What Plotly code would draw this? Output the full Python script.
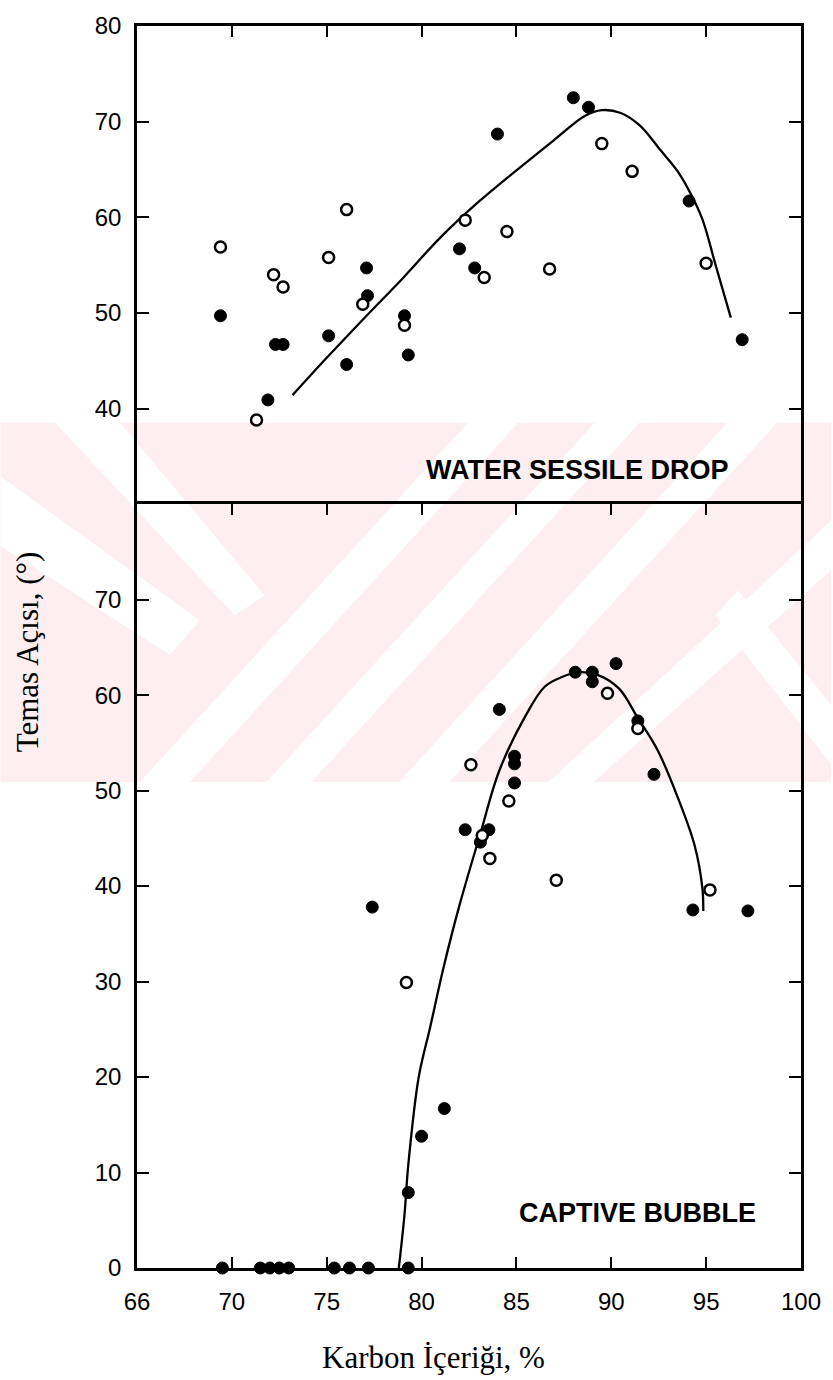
import plotly.graph_objects as go

# ---------------- data ----------------
# Top panel: WATER SESSILE DROP
ws_filled_x = [69.4, 72.3, 72.7, 71.9, 75.1, 76.05, 77.1, 77.15, 79.1, 79.3, 82.0, 82.8, 84.0, 88.0, 88.8, 94.1, 96.9]
ws_filled_y = [49.7, 46.7, 46.7, 40.9, 47.6, 44.6, 54.7, 51.8, 49.7, 45.6, 56.7, 54.7, 68.7, 72.5, 71.5, 61.7, 47.2]
ws_open_x = [69.4, 72.2, 72.7, 76.05, 75.1, 76.9, 79.1, 71.3, 82.3, 89.5, 91.1, 84.5, 83.3, 86.75, 95.0]
ws_open_y = [56.9, 54.0, 52.7, 60.8, 55.8, 50.9, 48.7, 38.8, 59.7, 67.7, 64.8, 58.5, 53.7, 54.6, 55.2]
ws_curve_x = [73.2, 75.0, 77.0, 79.0, 81.0, 83.0, 85.0, 87.0, 88.6, 89.5, 90.5, 91.5, 92.6, 93.5, 94.2, 94.8, 95.5, 96.3]
ws_curve_y = [41.4, 45.3, 49.5, 53.6, 57.9, 61.6, 64.9, 68.1, 70.6, 71.2, 70.9, 69.6, 67.0, 64.8, 62.4, 59.8, 55.0, 49.5]

# Bottom panel: CAPTIVE BUBBLE
cb_filled_x = [88.1, 89.0, 89.0, 90.25, 84.1, 84.9, 84.9, 84.9, 91.4, 92.25, 82.3, 83.55, 83.1, 94.3, 97.2,
               77.4, 81.2, 80.0, 79.3, 69.5, 71.5, 72.0, 72.5, 73.0, 75.4, 76.2, 77.2, 79.3]
cb_filled_y = [62.4, 62.4, 61.4, 63.3, 58.5, 53.6, 52.8, 50.8, 57.3, 51.7, 45.9, 45.9, 44.6, 37.5, 37.4,
               37.8, 16.7, 13.8, 7.9, 0, 0, 0, 0, 0, 0, 0, 0, 0]
cb_open_x = [82.6, 89.8, 91.4, 84.6, 83.6, 87.1, 95.2, 79.2, 83.2]
cb_open_y = [52.7, 60.2, 56.5, 48.9, 42.9, 40.6, 39.6, 29.9, 45.3]
cb_curve_x = [78.8, 79.1, 79.3, 79.85, 80.45, 81.15, 82.0, 83.1, 84.1, 85.5, 86.5, 87.4, 88.3, 89.3, 90.4,
              91.4, 92.45, 93.5, 94.4, 94.8, 94.85]
cb_curve_y = [0, 5.6, 10.8, 20.0, 25.2, 31.4, 38.0, 45.5, 52.1, 57.9, 60.9, 61.9, 62.4, 62.1, 60.7,
              57.6, 54.2, 49.3, 44.2, 39.8, 37.4]

x_tickvals = [65, 70, 75, 80, 85, 90, 95, 100]
x_ticktext = ["66", "70", "75", "80", "85", "90", "95", "100"]
top_ytickvals = [40, 50, 60, 70, 80]
bot_ytickvals = [0, 10, 20, 30, 40, 50, 60, 70]

# ---------------- figure ----------------
W, H = 833, 1380
L, R, T, B = 137, 30, 16, 112
PW, PH = W - L - R, H - T - B
split = (1268 - 498) / PH

fig = go.Figure()

line_style = dict(color="black", width=2.3, shape="spline", smoothing=1.0)
mk_filled = dict(symbol="circle", size=12, color="black", line=dict(color="black", width=1))
mk_open = dict(symbol="circle", size=11, color="white", line=dict(color="black", width=2.5))

# top panel
fig.add_trace(go.Scatter(x=ws_curve_x, y=ws_curve_y, mode="lines", line=line_style,
                         xaxis="x2", yaxis="y2", hoverinfo="skip"))
fig.add_trace(go.Scatter(x=ws_filled_x, y=ws_filled_y, mode="markers", marker=mk_filled,
                         xaxis="x2", yaxis="y2", cliponaxis=False))
fig.add_trace(go.Scatter(x=ws_open_x, y=ws_open_y, mode="markers", marker=mk_open,
                         xaxis="x2", yaxis="y2", cliponaxis=False))
# bottom panel
fig.add_trace(go.Scatter(x=cb_curve_x, y=cb_curve_y, mode="lines", line=line_style,
                         xaxis="x", yaxis="y", hoverinfo="skip"))
fig.add_trace(go.Scatter(x=cb_filled_x, y=cb_filled_y, mode="markers", marker=mk_filled,
                         xaxis="x", yaxis="y", cliponaxis=False))
fig.add_trace(go.Scatter(x=cb_open_x, y=cb_open_y, mode="markers", marker=mk_open,
                         xaxis="x", yaxis="y", cliponaxis=False))

tick_font = dict(family="Liberation Sans, Arial, sans-serif", size=24, color="black")
ax_common = dict(showgrid=False, zeroline=False, showline=True, linecolor="black", linewidth=2.5,
                 ticks="inside", tickcolor="black", tickwidth=2, tickfont=tick_font)

fig.update_layout(
    width=W, height=H,
    margin=dict(l=L, r=R, t=T, b=B),
    paper_bgcolor="white", plot_bgcolor="rgba(0,0,0,0)",
    showlegend=False,
    xaxis=dict(ax_common, range=[65, 100], domain=[0, 1], anchor="y", mirror="ticks",
               tickvals=x_tickvals, ticktext=x_ticktext, ticklen=11, ticklabelstandoff=10),
    yaxis=dict(ax_common, range=[0, 80], domain=[0, split], anchor="x", mirror="ticks",
               tickvals=bot_ytickvals, ticklen=12, ticklabelstandoff=8),
    xaxis2=dict(ax_common, range=[65, 100], domain=[0, 1], anchor="y2", side="top", mirror=False,
                tickvals=x_tickvals, ticklen=11, showticklabels=False),
    yaxis2=dict(ax_common, range=[30, 80], domain=[split, 1], anchor="x2", mirror="ticks",
                tickvals=top_ytickvals, ticklen=12, ticklabelstandoff=8),
)

# ---------------- decorative watermark (pink band with white diagonal stripes) ----------------
def px2paper(px, py):
    return (px - L) / PW, (H - B - py) / PH

def poly(points):
    pts = [px2paper(a, b) for a, b in points]
    return "M " + " L ".join(f"{a:.4f},{b:.4f}" for a, b in pts) + " Z"

pink = "#fdeef1"
band_top, band_bot = 416, 778
fig.add_shape(type="path", xref="paper", yref="paper", layer="below", line_width=0, fillcolor=pink,
              path=poly([(0, band_top), (W, band_top), (W, band_bot), (0, band_bot)]))
white_stripes = [
    [(140, band_bot), (190, band_bot), (519, band_top), (469, band_top)],
    [(267, band_bot), (312, band_bot), (641, band_top), (596, band_top)],
    [(400, band_bot), (450, band_bot), (779, band_top), (729, band_top)],
    [(550, band_bot), (595, band_bot), (W, 565), (W, 515)],
    [(55, band_top), (120, band_top), (265, 590), (235, 610)],
    [(0, 470), (0, 540), (170, 650), (200, 615)],
    [(717, 610), (740, 585), (W, 700), (W, 760)],
]
for s in white_stripes:
    fig.add_shape(type="path", xref="paper", yref="paper", layer="below", line_width=0,
                  fillcolor="white", path=poly(s))

# ---------------- text ----------------
label_font = dict(family="Liberation Sans, Arial, sans-serif", size=27, color="black")
fig.add_annotation(xref="x2", yref="y2", x=(425 - L) / PW * 35 + 65, y=33.6,
                   text="<b>WATER SESSILE DROP</b>", showarrow=False, xanchor="left", yanchor="middle",
                   font=label_font)
fig.add_annotation(xref="x", yref="y", x=(518 - L) / PW * 35 + 65, y=5.8,
                   text="<b>CAPTIVE BUBBLE</b>", showarrow=False, xanchor="left", yanchor="middle",
                   font=label_font)
fig.add_annotation(xref="paper", yref="paper", x=px2paper(28, 0)[0], y=px2paper(0, 647)[1],
                   text="Temas Açısı, (°)", showarrow=False, textangle=-90,
                   xanchor="center", yanchor="middle",
                   font=dict(family="Liberation Serif, Times New Roman, serif", size=31, color="black"))
fig.add_annotation(xref="paper", yref="paper", x=px2paper(434, 0)[0], y=px2paper(0, 1358)[1],
                   text="Karbon İçeriği, %", showarrow=False,
                   xanchor="center", yanchor="middle",
                   font=dict(family="Liberation Serif, Times New Roman, serif", size=31, color="black"))

fig.write_html("out.html")
